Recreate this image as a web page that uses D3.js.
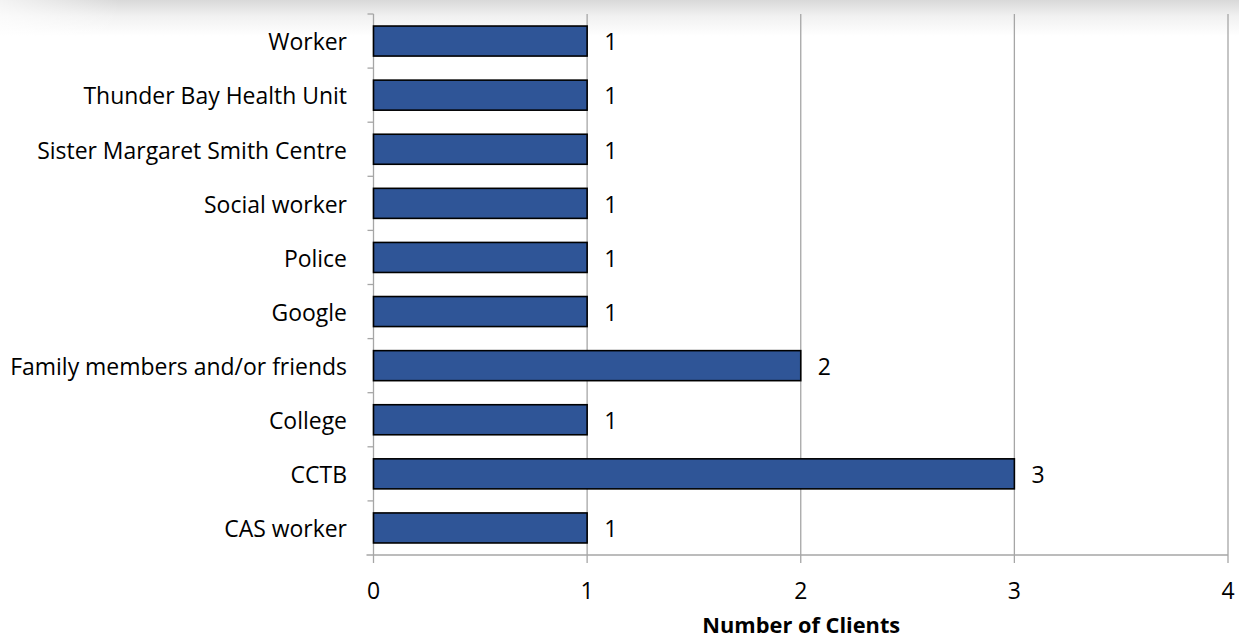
<!DOCTYPE html>
<html>
<head>
<meta charset="utf-8">
<script src="https://cdn.jsdelivr.net/npm/d3@7"></script>
<style>
  html, body { margin: 0; padding: 0; background: #fff; }
  svg { display: block; }
  text { font-family: "Open Sans", Lato, sans-serif; fill: #000; }
</style>
</head>
<body>
<svg id="chart" width="1239" height="639"></svg>
<script>
// Referral sources, listed top to bottom
const categories = [
  "Worker",
  "Thunder Bay Health Unit",
  "Sister Margaret Smith Centre",
  "Social worker",
  "Police",
  "Google",
  "Family members and/or friends",
  "College",
  "CCTB",
  "CAS worker"
];
const clients = [1, 1, 1, 1, 1, 1, 2, 1, 3, 1];
const xTicks = [0, 1, 2, 3, 4];
const xTitle = "Number of Clients";

const W = 1239, H = 639;
const plot = { left: 373.5, right: 1228, top: 14, bottom: 555 };

const svg = d3.select("#chart");

// size the text so the longest category label spans the label column
function fitSize(str, targetWidth, weight) {
  const t = svg.append("text").attr("font-size", 20)
    .attr("font-weight", weight || "normal").text(str);
  const w = t.node().getComputedTextLength();
  t.remove();
  return 20 * targetWidth / w;
}
const fontSize = Math.min(23.5, fitSize("Family members and/or friends", 337));
const titleSize = Math.min(22, fitSize(xTitle, 198, "bold"));

// soft grey band along the top edge
const defs = svg.append("defs");
const grad = defs.append("linearGradient")
  .attr("id", "topShade").attr("x1", 0).attr("y1", 0).attr("x2", 0).attr("y2", 1);
grad.append("stop").attr("offset", "0%").attr("stop-color", "#d9d9d9");
grad.append("stop").attr("offset", "45%").attr("stop-color", "#f1f1f1");
grad.append("stop").attr("offset", "100%").attr("stop-color", "#ffffff");
const fadeL = defs.append("linearGradient")
  .attr("id", "leftFade").attr("x1", 0).attr("y1", 0).attr("x2", 1).attr("y2", 0);
fadeL.append("stop").attr("offset", "0%").attr("stop-color", "#fff").attr("stop-opacity", 0.7);
fadeL.append("stop").attr("offset", "100%").attr("stop-color", "#fff").attr("stop-opacity", 0);
svg.append("rect").attr("x", 0).attr("y", 0).attr("width", W).attr("height", 36)
  .attr("fill", "url(#topShade)");
svg.append("rect").attr("x", 0).attr("y", 0).attr("width", 120).attr("height", 36)
  .attr("fill", "url(#leftFade)");

const x = d3.scaleLinear().domain([0, 4]).range([plot.left, plot.right]);
const y = d3.scaleBand().domain(categories).range([plot.top, plot.bottom])
  .paddingInner(0.445).paddingOuter(0.2225);

const axisColor = "#a6a6a6";

// vertical gridlines
svg.append("g").selectAll("line")
  .data(xTicks.filter(d => d > 0))
  .join("line")
  .attr("x1", d => x(d)).attr("x2", d => x(d))
  .attr("y1", plot.top).attr("y2", plot.bottom)
  .attr("stroke", axisColor).attr("stroke-width", 1.3);

// bottom axis line with tick marks
svg.append("line")
  .attr("x1", plot.left - 7).attr("x2", plot.right)
  .attr("y1", plot.bottom).attr("y2", plot.bottom)
  .attr("stroke", axisColor).attr("stroke-width", 1.3);
svg.append("g").selectAll("line")
  .data(xTicks)
  .join("line")
  .attr("x1", d => x(d)).attr("x2", d => x(d))
  .attr("y1", plot.bottom).attr("y2", plot.bottom + 8)
  .attr("stroke", axisColor).attr("stroke-width", 1.3);
svg.append("g").selectAll("text")
  .data(xTicks)
  .join("text")
  .attr("x", d => x(d)).attr("y", 591)
  .attr("dy", "0.36em")
  .attr("text-anchor", "middle")
  .attr("font-size", fontSize)
  .text(d => d);

// left axis line with tick marks at band boundaries
svg.append("line")
  .attr("x1", plot.left).attr("x2", plot.left)
  .attr("y1", plot.top).attr("y2", plot.bottom)
  .attr("stroke", axisColor).attr("stroke-width", 1.3);
const step = y.step();
svg.append("g").selectAll("line")
  .data(d3.range(categories.length))
  .join("line")
  .attr("x1", plot.left - 6).attr("x2", plot.left)
  .attr("y1", i => plot.top + i * step).attr("y2", i => plot.top + i * step)
  .attr("stroke", axisColor).attr("stroke-width", 1.3);

// category labels
svg.append("g").selectAll("text")
  .data(categories)
  .join("text")
  .attr("x", 347)
  .attr("y", d => y(d) + y.bandwidth() / 2 + 1)
  .attr("dy", "0.36em")
  .attr("text-anchor", "end")
  .attr("font-size", fontSize)
  .text(d => d);

// bars
const rows = categories.map((c, i) => ({ cat: c, val: clients[i] }));
svg.append("g").selectAll("rect")
  .data(rows)
  .join("rect")
  .attr("x", x(0))
  .attr("y", d => y(d.cat))
  .attr("width", d => x(d.val) - x(0))
  .attr("height", y.bandwidth())
  .attr("fill", "#2f5597")
  .attr("stroke", "#000").attr("stroke-width", 1.6);

// value labels
svg.append("g").selectAll("text")
  .data(rows)
  .join("text")
  .attr("x", d => x(d.val) + 17)
  .attr("y", d => y(d.cat) + y.bandwidth() / 2 + 1)
  .attr("dy", "0.36em")
  .attr("font-size", fontSize)
  .text(d => d.val);

// axis title
svg.append("text")
  .attr("x", (plot.left + plot.right) / 2 + 0.5)
  .attr("y", 633)
  .attr("text-anchor", "middle")
  .attr("font-size", titleSize)
  .attr("font-weight", "bold")
  .text(xTitle);
</script>
</body>
</html>
